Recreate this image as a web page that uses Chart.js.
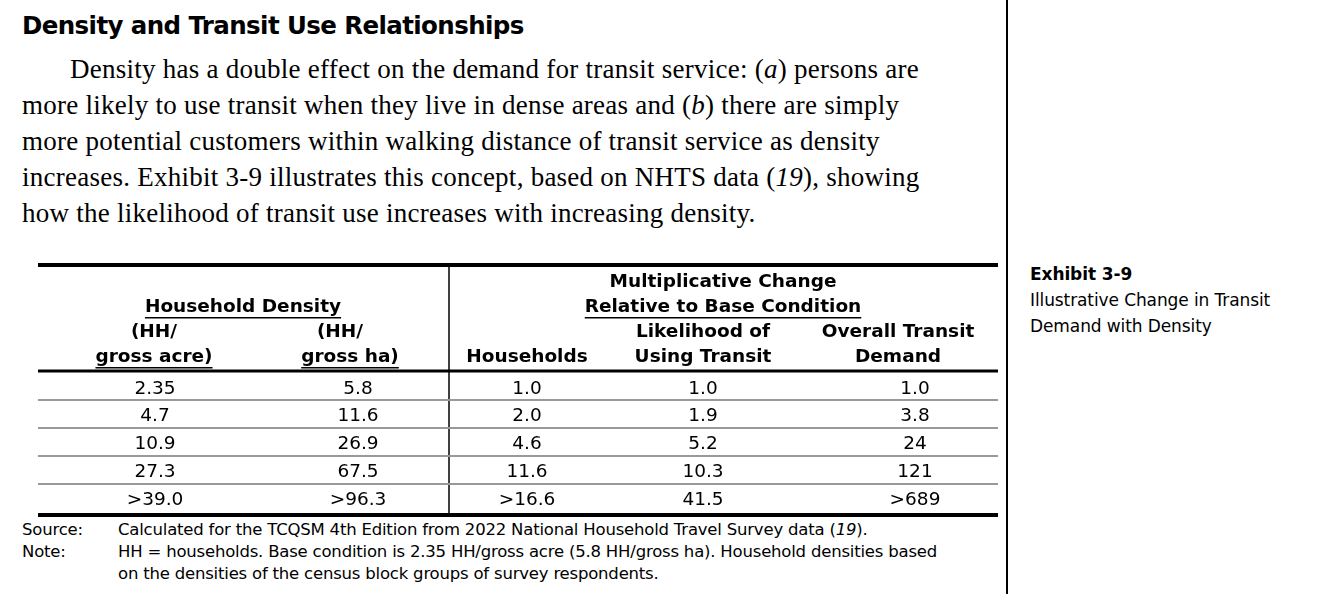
<!DOCTYPE html>
<html><head><meta charset="utf-8">
<script src="https://cdn.jsdelivr.net/npm/chart.js@4"></script>
<style>
body{margin:0;width:1340px;height:594px;background:#fff;position:relative;overflow:hidden;font-family:"DejaVu Sans",sans-serif;color:#000}
.a{position:absolute;white-space:nowrap}
#title{left:22px;top:11px;font-weight:bold;font-size:24.5px;font-family:"DejaVu Sans";letter-spacing:-0.6px}
.p{left:22px;font-family:"Liberation Serif",serif;font-size:27px;letter-spacing:0.25px}
#vline{left:1006px;top:0;width:2px;height:594px;background:#000}
.side{left:1030px;font-size:17px;font-family:"DejaVu Sans";letter-spacing:-0.1px}
.note{font-size:16.5px;letter-spacing:-0.2px}
#wrap{position:absolute;left:38px;top:260px;width:962px;height:262px}
</style></head><body>
<div class="a" id="title">Density and Transit Use Relationships</div>
<div class="a p" style="top:54px;left:70px">Density has a double effect on the demand for transit service: (<i>a</i>) persons are</div>
<div class="a p" style="top:90px">more likely to use transit when they live in dense areas and (<i>b</i>) there are simply</div>
<div class="a p" style="top:126px">more potential customers within walking distance of transit service as density</div>
<div class="a p" style="top:162px">increases. Exhibit 3-9 illustrates this concept, based on NHTS data (<i>19</i>), showing</div>
<div class="a p" style="top:198px">how the likelihood of transit use increases with increasing density.</div>
<div class="a" id="vline"></div>
<div class="a side" style="top:264px;font-weight:bold">Exhibit 3-9</div>
<div class="a side" style="top:290px">Illustrative Change in Transit</div>
<div class="a side" style="top:316px">Demand with Density</div>
<div class="a note" style="left:22px;top:520px">Source:</div>
<div class="a note" style="left:22px;top:542px">Note:</div>
<div class="a note" style="left:118px;top:520px">Calculated for the TCQSM 4th Edition from 2022 National Household Travel Survey data (<i>19</i>).</div>
<div class="a note" style="left:118px;top:542px">HH = households. Base condition is 2.35 HH/gross acre (5.8 HH/gross ha). Household densities based</div>
<div class="a note" style="left:118px;top:564px">on the densities of the census block groups of survey respondents.</div>
<div id="wrap"><canvas id="c"></canvas></div>
<script>
const densityAcre=["2.35","4.7","10.9","27.3",">39.0"];
const densityHa=["5.8","11.6","26.9","67.5",">96.3"];
const households=["1.0","2.0","4.6","11.6",">16.6"];
const likelihood=["1.0","1.9","5.2","10.3","41.5"];
const overall=["1.0","3.8","24","121",">689"];
const columns=[densityAcre,densityHa,households,likelihood,overall];
const colX=[117,320,489,665,877];
const rowY=[129,156,184,212,240];
const ruleRows=[140,168,196,224];

const tablePlugin={id:'tbl',afterDraw(ch){
 const ctx=ch.ctx,X=v=>ch.scales.x.getPixelForValue(v),Y=v=>ch.scales.y.getPixelForValue(v);
 function line(x1,y1,x2,y2,w,c){ctx.beginPath();ctx.strokeStyle=c||'#000';ctx.lineWidth=w;ctx.moveTo(X(x1),Y(y1));ctx.lineTo(X(x2),Y(y2));ctx.stroke();}
 function txt(s,x,y,bold,ul){ctx.font=(bold?'bold 18.5px':'18.5px')+' "DejaVu Sans"';ctx.textAlign='center';ctx.textBaseline='middle';ctx.fillStyle='#000';ctx.fillText(s,X(x),Y(y));
  if(ul){const w=ctx.measureText(s).width;ctx.fillRect(X(x)-w/2,Y(y)+10,w,1.5);}}
 ctx.save();
 line(0,5,960,5,4);
 line(411,4,411,256,1.5);
 line(0,111,960,111,3);
 ruleRows.forEach(r=>line(0,r,960,r,2,'#999'));
 line(0,255,960,255,4);
 txt('Multiplicative Change',685,22,true);
 txt('Relative to Base Condition',685,47,true,true);
 txt('Household Density',205,47,true,true);
 txt('(HH/',116,72,true);txt('gross acre)',116,97,true,true);
 txt('(HH/',302,72,true);txt('gross ha)',312,97,true,true);
 txt('Households',489,97,true);
 txt('Likelihood of',665,72,true);txt('Using Transit',665,97,true);
 txt('Overall Transit',860,72,true);txt('Demand',860,97,true);
 columns.forEach((col,i)=>col.forEach((v,j)=>txt(v,colX[i],rowY[j],false)));
 ctx.restore();
}};
new Chart(document.getElementById('c'),{type:'scatter',data:{datasets:[{data:[]}]},
 options:{responsive:true,maintainAspectRatio:false,animation:false,layout:{padding:0},
 plugins:{legend:{display:false},tooltip:{enabled:false}},
 scales:{x:{type:'linear',min:0,max:962,display:false},y:{type:'linear',min:0,max:262,reverse:true,display:false}}},
 plugins:[tablePlugin]});
</script>
</body></html>
